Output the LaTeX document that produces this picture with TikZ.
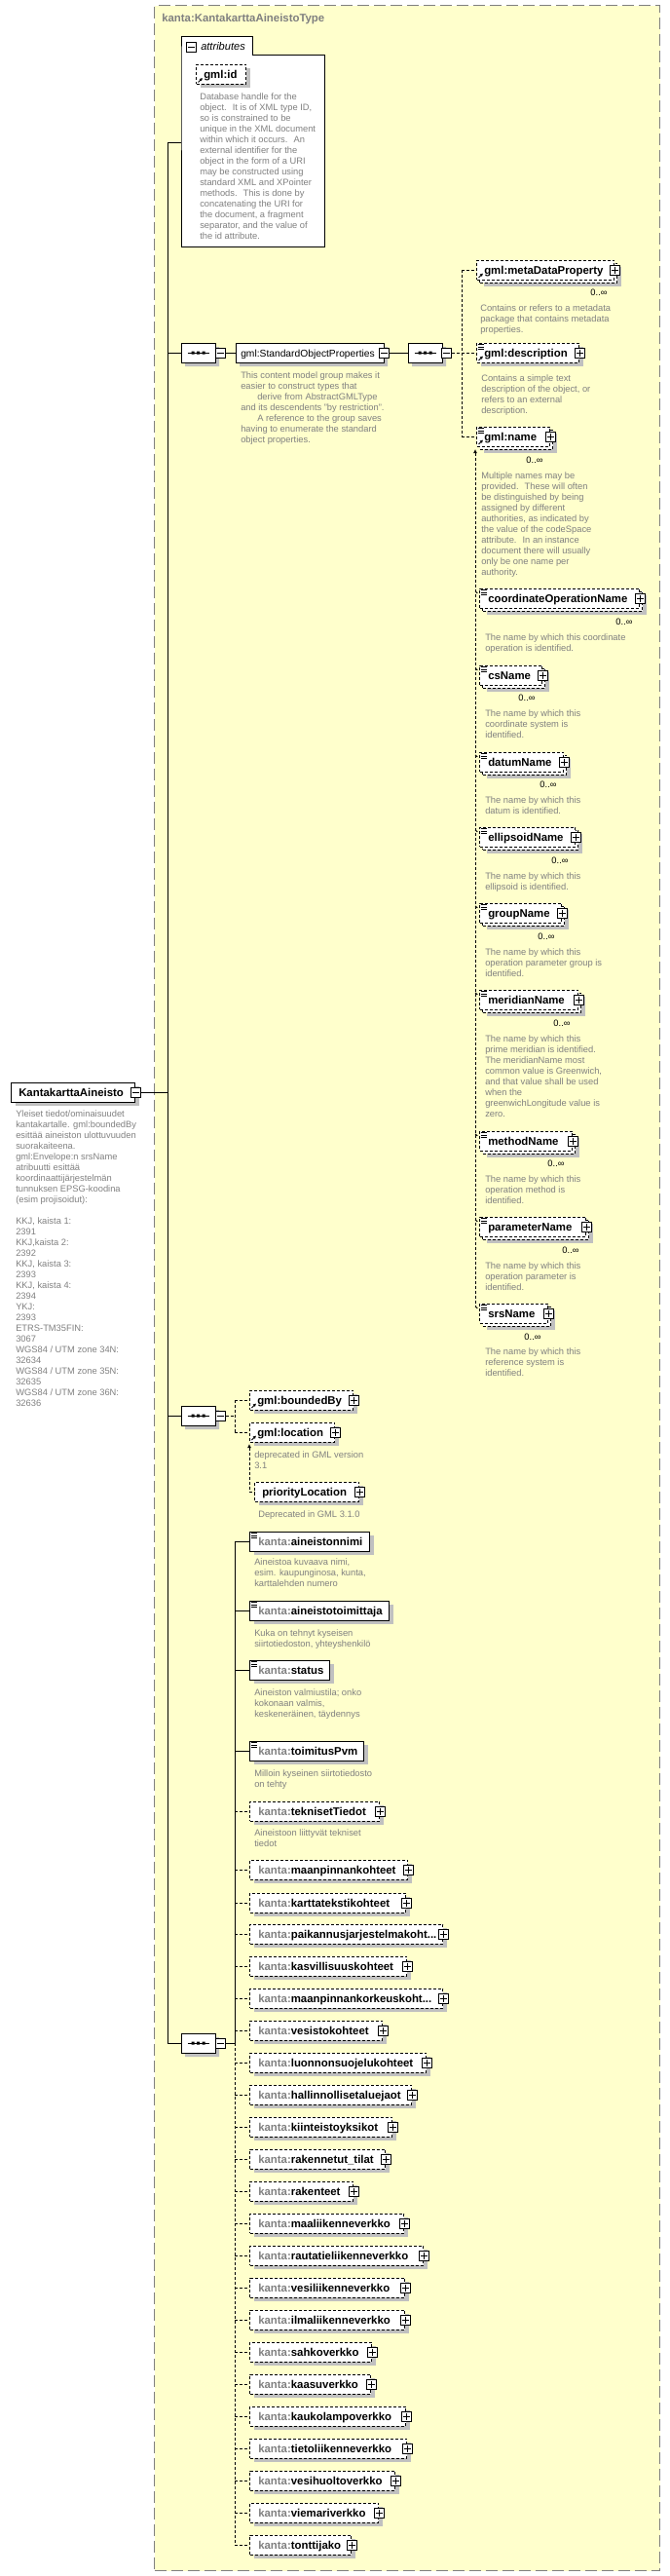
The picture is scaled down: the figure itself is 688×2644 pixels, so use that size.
\documentclass[tikz,border=0pt]{standalone}
\usepackage{fontspec}
\setmainfont{Liberation Sans}
\usetikzlibrary{shapes.misc,shadows,arrows.meta}
\newdimen\pxu \pxu=0.75pt
\definecolor{bgy}{RGB}{255,255,204}
\definecolor{shc}{RGB}{192,192,192}
\definecolor{dsc}{RGB}{128,128,128}
\definecolor{brd}{RGB}{128,128,128}
\tikzset{
  sh/.style={general shadow={fill=shc, shadow xshift=4\pxu, shadow yshift=-4\pxu}},
  elbox/.style={draw, fill=white, line width=1\pxu, rectangle, minimum height=20\pxu, inner sep=0pt, anchor=west},
  optb/.style={dash pattern=on 3\pxu off 2\pxu},
  multi/.style={general shadow={fill=shc, shadow xshift=7\pxu, shadow yshift=-7\pxu},
                general shadow={fill=white, draw=black, line width=1\pxu, dash pattern=on 3\pxu off 2\pxu, shadow xshift=3\pxu, shadow yshift=-3\pxu}},
  nm/.style={font=\fontsize{8.55pt}{10pt}\selectfont\bfseries, inner sep=0pt, anchor=base west},
  gnm/.style={font=\fontsize{7.7pt}{10pt}\selectfont, inner sep=0pt},
  desc/.style={font=\fontsize{7pt}{8.25pt}\selectfont, text=dsc, align=left, inner sep=0pt, anchor=north west},
  occ/.style={font=\fontsize{7pt}{8.25pt}\selectfont, inner sep=0pt, anchor=base},
  pbox/.style={draw, fill=white, line width=1\pxu, minimum size=10\pxu, inner sep=0pt},
  seqs/.style={draw, fill=white, line width=1\pxu, chamfered rectangle, chamfered rectangle xsep=5\pxu, chamfered rectangle ysep=5\pxu, minimum width=35\pxu, minimum height=20\pxu, inner sep=0pt, sh},
  grps/.style={draw, fill=white, line width=1\pxu, chamfered rectangle, chamfered rectangle xsep=3\pxu, chamfered rectangle ysep=3\pxu, minimum width=152\pxu, minimum height=20\pxu, inner sep=0pt, sh},
  conn/.style={line width=1\pxu},
  dconn/.style={line width=1\pxu, dash pattern=on 3\pxu off 2\pxu},
  reftip/.style={-{Latex[length=2.3pt,width=2.6pt]}},
  subtip/.style={{Latex[length=3pt,width=3pt]}-},
}
% element box: [opts]{name}{x1}{yc}{x2}{text x offset}{text}
\newcommand\EL[7][]{%
  \node[elbox,#1,minimum width={(#5-#3)*\pxu}] (#2) at (#3,#4) {};
  \node[nm] (#2t) at ([shift={(#6,4)}]#2.west) {#7};}
\newcommand\PL[1]{%
  \node[pbox] (#1p) at (#1.east) {};
  \draw[line width=1\pxu] ([xshift=2\pxu]#1p.west) -- ([xshift=-2\pxu]#1p.east)
    ([yshift=-2\pxu]#1p.north) -- ([yshift=2\pxu]#1p.south);}
\newcommand\MI[2]{%
  \node[pbox] (#1) at #2 {};
  \draw[line width=1\pxu] ([xshift=2\pxu]#1.west) -- ([xshift=-2\pxu]#1.east);}
\newcommand\EQ[1]{%
  \draw[line width=0.8\pxu] ([shift={(1.5,2)}]#1.north west) -- ++(6,0)
    ([shift={(1.5,4.5)}]#1.north west) -- ++(6,0)
    ([shift={(1.5,7)}]#1.north west) -- ++(6,0);}
\newcommand\REF[1]{%
  \draw[line width=0.9\pxu, reftip] ([shift={(2.5,-2.5)}]#1.south west) -- ++(4.5,-4.5);}
\newcommand\SEQ[2]{%
  \node[seqs] (#1) at (#2) {};
  \draw[line width=1\pxu] ([xshift=-11\pxu]#1.center) -- ([xshift=11\pxu]#1.center);
  \fill ([shift={(-7,-1.5)}]#1.center) rectangle ++(3,3)
        ([shift={(-1.5,-1.5)}]#1.center) rectangle ++(3,3)
        ([shift={(4,-1.5)}]#1.center) rectangle ++(3,3);}
\newcommand\DS[4]{\node[desc] (#1) at ([shift={(0,-3.5)}]#2,#3) {#4};}
\newcommand\OC[3]{\node[occ] (#1) at (#2,#3+3.5) {0..∞};}
\newcommand\KP{\color{dsc}kanta:}
\newcommand\DOTS{...}

\begin{document}
\begin{tikzpicture}[x=0.75pt,y=-0.75pt]
\useasboundingbox (0,0) rectangle (688,2644);
% outer complex type
\node[draw=brd, fill=bgy, line width=1.2\pxu, dash pattern=on 12\pxu off 5\pxu, minimum width=519\pxu, minimum height=2633\pxu, inner sep=0pt, anchor=north west] (type) at (158,5) {};
\node[nm, text=dsc] (typet) at (166,23) {kanta:KantakarttaAineistoType};

% attributes
\node[fill=white, minimum width=147\pxu, minimum height=196\pxu, inner sep=0pt, anchor=north west] (attr) at (186,57) {};
\draw[line width=1\pxu, fill=white] (attr.north west) -- ++(0,-19) -- ++(73,0) -- ++(0,19) -- (attr.north east) -- (attr.south east) -- (attr.south west) -- cycle;
\MI{attrm}{(196.5,48.5)}
\node[font=\fontsize{8.3pt}{10pt}\selectfont\itshape, inner sep=0pt, anchor=base west] (attrt) at (206,52) {attributes};
\EL[optb,sh]{gid}{201}{76.5}{252}{8}{gml:id}
\REF{gid}
\DS{gidd}{205}{99}{Database handle for the\\object.~ It is of XML type ID,\\so is constrained to be\\unique in the XML document\\within which it occurs.~ An\\external identifier for the\\object in the form of a URI\\may be constructed using\\standard XML and XPointer\\methods.~ This is done by\\concatenating the URI for\\the document, a fragment\\separator, and the value of\\the id attribute.}

% root element
\EL[sh]{root}{11}{1121}{138}{8}{KantakarttaAineisto}
\MI{rootm}{(root.east)}
\DS{rootd}{16}{1143}{Yleiset tiedot/ominaisuudet\\kantakartalle. gml:boundedBy\\esittää aineiston ulottuvuuden\\suorakaiteena.\\gml:Envelope:n srsName\\atribuutti esittää\\koordinaattijärjestelmän\\tunnuksen EPSG-koodina\\(esim projisoidut):\\~\\KKJ, kaista 1:\\2391\\KKJ,kaista 2:\\2392\\KKJ, kaista 3:\\2393\\KKJ, kaista 4:\\2394\\YKJ:\\2393\\ETRS-TM35FIN:\\3067\\WGS84 / UTM zone 34N:\\32634\\WGS84 / UTM zone 35N:\\32635\\WGS84 / UTM zone 36N:\\32636}

% main vertical
\coordinate (v0) at (172,147);
\coordinate (v1) at (172,2097);
\draw[conn] (v0) -- (v1);
\draw[conn] (v0) -- (v0 -| attr.west);
\draw[conn] (rootm.east) -- (rootm.east -| v0);

% sequence 1 : StandardObjectProperties
\SEQ{seqA}{203.5,362}
\MI{seqAm}{(226,362)}
\node[grps] (grp) at (318,362) {};
\node[gnm, anchor=base west] (grpt) at (247,366) {gml:StandardObjectProperties};
\MI{grpm}{(grp.east)}
\SEQ{seqB}{436.5,362}
\MI{seqBm}{(458,362)}
\draw[conn] (v0 |- seqA.west) -- (seqA.west);
\draw[conn] (seqAm.east) -- (grp.west);
\draw[conn] (grpm.east) -- (seqB.west);
\DS{grpd}{247}{385}{This content model group makes it\\easier to construct types that\\\hspace*{17\pxu}derive from AbstractGMLType\\and its descendents "by restriction".\\\hspace*{17\pxu}A reference to the group saves\\having to enumerate the standard\\object properties.}

\EL[optb,multi]{mdp}{489}{277}{630}{8}{gml:metaDataProperty}
\PL{mdp}\REF{mdp}
\OC{mdpo}{615}{300}
\DS{mdpd}{493}{316}{Contains or refers to a metadata\\package that contains metadata\\properties.}

\EL[optb,sh]{gdsc}{489}{362}{594}{8}{gml:description}
\PL{gdsc}\REF{gdsc}\EQ{gdsc}
\DS{gdscd}{494}{388}{Contains a simple text\\description of the object, or\\refers to an external\\description.}

\EL[optb,multi]{gnam}{489}{448}{564}{8}{gml:name}
\PL{gnam}\REF{gnam}\EQ{gnam}
\OC{gnamo}{549}{472}
\DS{gnamd}{494}{488}{Multiple names may be\\provided.~ These will often\\be distinguished by being\\assigned by different\\authorities, as indicated by\\the value of the codeSpace\\attribute.~ In an instance\\document there will usually\\only be one name per\\authority.}

\coordinate (sB) at (474,362);
\draw[dconn] (seqBm.east) -- (sB);
\draw[dconn] (mdp.west -| sB) -- (gnam.west -| sB);
\draw[dconn] (mdp.west -| sB) -- (mdp.west);
\draw[dconn] (gdsc.west -| sB) -- (gdsc.west);
\draw[dconn] (gnam.west -| sB) -- (gnam.west);

% substitution group of gml:name
\coordinate (sg0) at (488,461);
\coordinate (sg1) at (488,1342);
\draw[dconn, subtip] (sg0) -- (sg1);
\foreach \id/\yc/\xx/\nm/\ox/\oy in {
  cop/614/656/coordinateOperationName/641/638,
  csn/693/556/csName/541/716,
  dat/782/578/datumName/563/805,
  ell/859/590/ellipsoidName/575/883,
  grn/937/576/groupName/561/961,
  mer/1026/593/meridianName/577/1050,
  met/1171/587/methodName/571/1194,
  par/1259/601/parameterName/586/1283,
  srs/1348/562/srsName/547/1372}{
  \EL[optb,multi]{\id}{492}{\yc}{\xx}{9}{\nm}
  \PL{\id}\EQ{\id}
  \OC{\id o}{\ox}{\oy}
  \draw[dconn] (488,\yc-7) -- ([yshift=4\pxu]\id.west);
}
\DS{copd}{498}{654}{The name by which this coordinate\\operation is identified.}
\DS{csnd}{498}{732}{The name by which this\\coordinate system is\\identified.}
\DS{datd}{498}{821}{The name by which this\\datum is identified.}
\DS{elld}{498}{899}{The name by which this\\ellipsoid is identified.}
\DS{grnd}{498}{977}{The name by which this\\operation parameter group is\\identified.}
\DS{merd}{498}{1066}{The name by which this\\prime meridian is identified.\\The meridianName most\\common value is Greenwich,\\and that value shall be used\\when the\\greenwichLongitude value is\\zero.}
\DS{metd}{498}{1210}{The name by which this\\operation method is\\identified.}
\DS{pard}{498}{1299}{The name by which this\\operation parameter is\\identified.}
\DS{srsd}{498}{1387}{The name by which this\\reference system is\\identified.}

% sequence 2 : boundedBy / location
\SEQ{seqC}{203.5,1453}
\MI{seqCm}{(226,1453)}
\draw[conn] (v0 |- seqC.west) -- (seqC.west);
\EL[optb,sh]{bby}{256}{1437}{362}{8}{gml:boundedBy}
\PL{bby}\REF{bby}
\EL[optb,sh]{loc}{256}{1470}{343}{8}{gml:location}
\PL{loc}\REF{loc}
\DS{locd}{261}{1493}{deprecated in GML version\\3.1}
\EL[optb,sh]{prl}{261}{1531}{368}{8}{priorityLocation}
\PL{prl}
\DS{prld}{265}{1554}{Deprecated in GML 3.1.0}
\coordinate (sC) at (241,1453);
\draw[dconn] (seqCm.east) -- (sC);
\draw[dconn] (bby.west -| sC) -- (loc.west -| sC);
\draw[dconn] (bby.west -| sC) -- (bby.west);
\draw[dconn] (loc.west -| sC) -- (loc.west);
\coordinate (pl0) at (256,1482);
\draw[dconn, subtip] (pl0) -- (prl.west -| pl0) -- (prl.west);

% sequence 3 : kanta elements
\SEQ{seqD}{203.5,2097}
\MI{seqDm}{(226,2097)}
\draw[conn] (v1) -- (seqD.west);
\coordinate (sD) at (241,2097);
\draw[conn] (seqDm.east) -- (sD);

\EL[sh]{ain}{256}{1582}{379}{9}{{\KP}aineistonnimi}
\EQ{ain}
\DS{aind}{261}{1603}{Aineistoa kuvaava nimi,\\esim. kaupunginosa, kunta,\\karttalehden numero}
\EL[sh]{ait}{256}{1653}{399}{9}{{\KP}aineistotoimittaja}
\EQ{ait}
\DS{aitd}{261}{1676}{Kuka on tehnyt kyseisen\\siirtotiedoston, yhteyshenkilö}
\EL[sh]{sta}{256}{1714}{338}{9}{{\KP}status}
\EQ{sta}
\DS{stad}{261}{1737}{Aineiston valmiustila; onko\\kokonaan valmis,\\keskeneräinen, täydennys}
\EL[sh]{tpv}{256}{1797}{373}{9}{{\KP}toimitusPvm}
\EQ{tpv}
\DS{tpvd}{261}{1820}{Milloin kyseinen siirtotiedosto\\on tehty}
\EL[optb,sh]{tek}{256}{1859}{389}{9}{{\KP}teknisetTiedot}
\PL{tek}
\DS{tekd}{261}{1881}{Aineistoon liittyvät tekniset\\tiedot}

\draw[conn] (ain.west -| sD) -- (sD);
\foreach \id in {ain,ait,sta,tpv}{\draw[conn] (\id.west -| sD) -- (\id.west);}
\draw[dconn] (tek.west -| sD) -- (tek.west);

\foreach \nm/\yc/\xx [count=\k] in {
  maanpinnankohteet/1919/418,
  karttatekstikohteet/1953/416,
  paikannusjarjestelmakoht\DOTS/1985/454,
  kasvillisuuskohteet/2018/417,
  maanpinnankorkeuskoht\DOTS/2051/454,
  vesistokohteet/2084/392,
  luonnonsuojelukohteet/2117/437,
  hallinnollisetaluejaot/2150/422,
  kiinteistoyksikot/2183/402,
  rakennetut\_tilat/2216/395,
  rakenteet/2249/362,
  maaliikenneverkko/2282/414,
  rautatieliikenneverkko/2315/434,
  vesiliikenneverkko/2348/415,
  ilmaliikenneverkko/2381/415,
  sahkoverkko/2414/381,
  kaasuverkko/2447/380,
  kaukolampoverkko/2480/416,
  tietoliikenneverkko/2513/417,
  vesihuoltoverkko/2546/405,
  viemariverkko/2579/388,
  tonttijako/2612/360}{
  \EL[optb,sh]{o\k}{256}{\yc}{\xx}{9}{{\KP}\nm}
  \PL{o\k}
  \draw[dconn] (o\k.west -| sD) -- (o\k.west);
}
\draw[dconn] (sD) -- (o22.west -| sD);
\end{tikzpicture}
\end{document}
